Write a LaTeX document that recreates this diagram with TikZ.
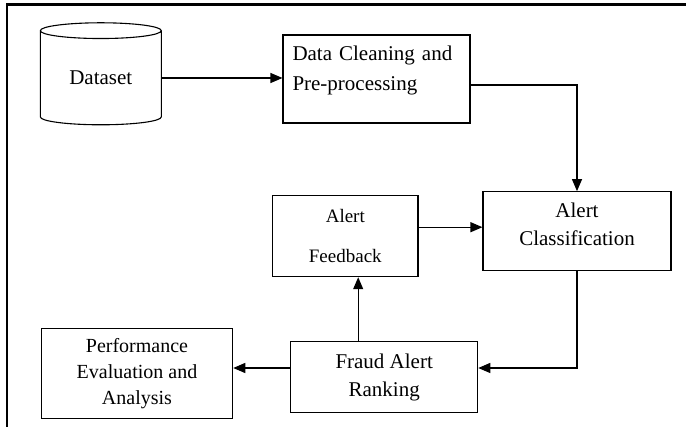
\documentclass[tikz,border=0pt]{standalone}
\usepackage{fontspec}
\setmainfont{Liberation Serif}
\usepackage{tikz}
\usetikzlibrary{arrows.meta, positioning, calc, shapes.geometric}

\begin{document}
\begin{tikzpicture}[
  x=1pt, y=1pt,
  box/.style={rectangle, draw, line width=1.1pt, align=center,
              font=\fontsize{21}{28}\selectfont, inner sep=0pt},
  arr/.style={-{Triangle[length=12pt, width=10pt]}, line width=1.1pt}
]
  \useasboundingbox (0,0) rectangle (686,-427);

  %% Frame
  \draw[line width=2.4pt] (7,-427) -- (7,-4.5) -- (686,-4.5);

  %% Nodes
  \node[cylinder, shape border rotate=90, draw, line width=1.1pt,
        aspect=0.25, minimum width=121pt, minimum height=102pt,
        font=\fontsize{21}{28}\selectfont, inner sep=0pt]
    (data) at (100.8,-78) {Dataset};

  \node[box, minimum width=187pt, minimum height=88pt,
        text width=168pt, align=left, text depth=51pt] (clean) at (376.5,-79)
    {Data Cleaning and\\[2pt] Pre-processing};

  \node[box, minimum width=188pt, minimum height=79pt,
        text depth=13pt] (class) at (577,-231.2)
    {Alert\\ Classification};

  \node[box, minimum width=145.3pt, minimum height=81pt,
        font=\fontsize{19}{25}\selectfont] (feed) at (345.3,-236.2)
    {Alert\\[15pt] Feedback};

  \node[box, minimum width=187pt, minimum height=70.6pt] (rank) at (384.2,-377)
    {Fraud Alert\\ Ranking};

  \node[box, minimum width=191.4pt, minimum height=90pt,
        font=\fontsize{20}{26}\selectfont] (perf) at (137,-373.3)
    {Performance\\ Evaluation and\\ Analysis};

  %% Connectors
  \draw[arr] (data.east) -- (data.east -| clean.west);
  \draw[arr] ([yshift=-6pt]clean.east) -| (class.north);
  \draw[arr] ([yshift=9pt]feed.east) -- ([yshift=9pt]feed.east -| class.west);
  \draw[arr] (class.south) |- ([yshift=9pt]rank.east);
  \draw[arr] ([xshift=-26pt]rank.north) -- ([xshift=-26pt]rank.north |- feed.south);
  \draw[arr] ([yshift=9pt]rank.west) -- ([yshift=9pt]rank.west -| perf.east);
\end{tikzpicture}
\end{document}
